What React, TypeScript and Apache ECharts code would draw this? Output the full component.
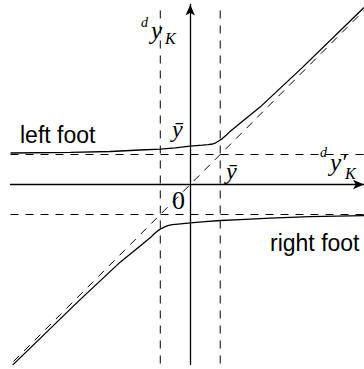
import React, { useEffect, useRef } from "react";
import * as echarts from "echarts";

// value of y-bar (asymptote level)
const yBar = 1;
// plotting extents (data units)
const xRange = [-6, 5.8];
const yRange = [-6, 6];

// upper branch ("left foot")
const upperX = [-6, -4, -2.67, -1.67, -1, -0.5, 0, 0.4, 0.6, 0.75, 0.85, 0.95, 1.07, 1.2, 1.33, 1.6, 2.33, 3.72, 5.8];
const upperY = [1.05, 1.07, 1.1, 1.15, 1.18, 1.22, 1.28, 1.31, 1.33, 1.35, 1.39, 1.45, 1.53, 1.64, 1.77, 1.99, 2.58, 3.88, 5.9];

// lower branch ("right foot")
const lowerX = [-5.93, -3.72, -2.33, -1.6, -1.33, -1.2, -1.07, -0.95, -0.85, -0.75, -0.6, -0.4, 0, 0.5, 1, 1.67, 2.67, 4, 5.8];
const lowerY = [-6.02, -3.88, -2.58, -1.99, -1.77, -1.64, -1.53, -1.46, -1.41, -1.37, -1.34, -1.32, -1.28, -1.24, -1.2, -1.17, -1.12, -1.07, -1.04];

// diagonal y = x extent
const diagX = [-5.9, 5.8];

const SERIF = "'Liberation Serif', 'DejaVu Serif', serif";
const SANS = "'Liberation Sans', Arial, sans-serif";

function zip(xs: number[], ys: number[]) {
  return xs.map((x, i) => [x, ys[i]]);
}

export default function App() {
  const ref = useRef<HTMLDivElement>(null);
  useEffect(() => {
    if (!ref.current) return;
    const chart = echarts.init(ref.current, null, { renderer: "svg" });
    const dashed = { color: "#000", width: 1, type: [8, 7] as any };
    const lineSeries = (data: number[][], lineStyle: any) => ({
      type: "line",
      data,
      symbol: "none",
      smooth: false,
      lineStyle,
      silent: true,
      z: 3,
    });
    const t = (text: string, x: number, y: number, size: number, family: string, italic: boolean, align = "left") => ({
      type: "text",
      x,
      y,
      z: 10,
      style: {
        text,
        fontSize: size,
        fontFamily: family,
        fontStyle: italic ? "italic" : "normal",
        fill: "#000",
        align,
        verticalAlign: "middle",
      },
    });
    chart.setOption({
      animation: false,
      grid: { left: 10.5, top: 4.5, width: 354, height: 360 },
      xAxis: {
        type: "value",
        min: xRange[0],
        max: xRange[1],
        splitLine: { show: false },
        axisTick: { show: false },
        axisLabel: { show: false },
        axisLine: {
          show: true,
          onZero: true,
          symbol: ["none", "arrow"],
          symbolSize: [7, 11],
          lineStyle: { color: "#000", width: 1.3 },
        },
      },
      yAxis: {
        type: "value",
        min: yRange[0],
        max: yRange[1],
        splitLine: { show: false },
        axisTick: { show: false },
        axisLabel: { show: false },
        axisLine: {
          show: true,
          onZero: true,
          symbol: ["none", "arrow"],
          symbolSize: [7, 11],
          lineStyle: { color: "#000", width: 1.3 },
        },
      },
      series: [
        lineSeries([[xRange[0], yBar], [xRange[1], yBar]], dashed),
        lineSeries([[xRange[0], -yBar], [xRange[1], -yBar]], dashed),
        lineSeries([[-yBar, 5.8], [-yBar, -6]], dashed),
        lineSeries([[yBar, 5.8], [yBar, -6]], dashed),
        lineSeries([[diagX[0], diagX[0]], [diagX[1], diagX[1]]], dashed),
        lineSeries(zip(upperX, upperY), { color: "#000", width: 1.3 }),
        lineSeries(zip(lowerX, lowerY), { color: "#000", width: 1.3 }),
      ],
      graphic: [
        t("d", 141, 22.5, 14, SERIF, true),
        t("y", 151, 30, 25, SERIF, true),
        t("K", 165, 38, 16, SERIF, true),
        t("\u0233", 172, 129, 24, SERIF, true),
        t("\u0233", 226, 171, 24, SERIF, true),
        t("0", 178.5, 200.5, 26, SERIF, false, "center"),
        t("d", 320, 152.5, 14, SERIF, true),
        t("y\u2032", 330, 162, 25, SERIF, true),
        t("K", 345, 173, 16, SERIF, true),
        t("left foot", 20, 135, 23, SANS, false),
        t("right foot", 270, 243, 23, SANS, false),
      ],
    });
    return () => chart.dispose();
  }, []);
  return (
    <div
      ref={ref}
      style={{ position: "fixed", left: 0, top: 0, width: 364, height: 369, background: "#fff" }}
    />
  );
}
